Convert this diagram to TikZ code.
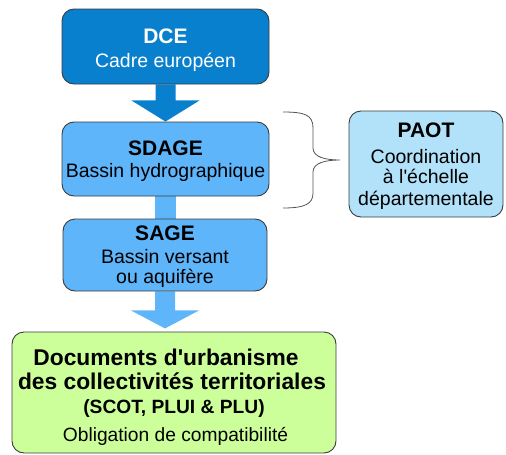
\documentclass[tikz,border=0pt]{standalone}
\usepackage{fontspec}
\setmainfont{Liberation Sans}
\usetikzlibrary{calc,backgrounds}
\definecolor{dcec}{RGB}{8,128,206}
\definecolor{sdagec}{RGB}{95,181,250}
\definecolor{paotc}{RGB}{178,226,250}
\definecolor{docc}{RGB}{204,255,153}
\definecolor{bordc}{RGB}{60,60,60}
\definecolor{bracec}{RGB}{85,85,85}
\tikzset{
  box/.style={draw=bordc, line width=0.9pt, rounded corners=12pt, inner sep=0pt},
  ttl/.style={anchor=base, inner sep=0pt, font=\fontsize{21}{24}\selectfont\bfseries},
  sub/.style={anchor=base, inner sep=0pt, font=\fontsize{19.5}{23}\selectfont},
  dttl/.style={anchor=base, inner sep=0pt, font=\fontsize{22.8}{26}\selectfont\bfseries},
  dsub/.style={anchor=base, inner sep=0pt, font=\fontsize{19.2}{23}\selectfont\bfseries},
}
\begin{document}
\begin{tikzpicture}[x=1pt,y=-1pt]
\useasboundingbox (0,0) rectangle (506,455);
% boxes
\node[box, fill=dcec, minimum width=207pt, minimum height=75pt] (dce) at (165.5,46.5) {};
\node[box, fill=sdagec, minimum width=207pt, minimum height=74pt] (sdage) at (165.5,159) {};
\node[box, fill=sdagec, minimum width=204pt, minimum height=72pt] (sage) at (165,255) {};
\node[box, fill=paotc, minimum width=154pt, minimum height=106pt] (paot) at (426,164) {};
\node[box, fill=docc, minimum width=324pt, minimum height=121pt] (docs) at (174,392.5) {};
% connectors
\begin{scope}[on background layer]
\fill[dcec] ($(dce.south)+(-10,0)$) -- ($(dce.south)+(10,0)$) -- ($(dce.south)+(10,16)$)
  -- ($(dce.south)+(34,16)$) -- (sdage.north) -- ($(dce.south)+(-34,16)$)
  -- ($(dce.south)+(-10,16)$) -- cycle;
\fill[sdagec] ($(sdage.south)+(-10.5,0)$) rectangle ($(sdage.south)+(10.5,24)$);
\fill[sdagec] ($(sage.south)+(-10,0)$) -- ($(sage.south)+(10,0)$) -- ($(sage.south)+(10,19)$)
  -- ($(sage.south)+(34,19)$) -- ($(sage.south)+(0,37)$) -- ($(sage.south)+(-34,19)$)
  -- ($(sage.south)+(-10,19)$) -- cycle;
\end{scope}
% brace
\coordinate (bt) at (283,112);
\coordinate (tip) at (340,160);
\coordinate (bb) at (283,208);
\draw[bracec, line width=0.8pt] (bt) .. controls (305,112) and (313,115) .. (313,128)
  -- (313,148) .. controls (313,157) and (325,160) .. (tip)
  .. controls (325,160) and (313,163) .. (313,172)
  -- (313,193) .. controls (313,204) and (305,208) .. (bb);
% texts
\node[ttl, text=white] (t1) at (165.5,43) {DCE};
\node[sub, text=white] (s1) at (165.5,67) {Cadre européen};
\node[ttl] (t2) at (165.5,155) {SDAGE};
\node[sub] (s2) at (165.5,177) {Bassin hydrographique};
\node[ttl] (t3) at (165,240) {SAGE};
\node[sub] (s3a) at (165,263) {Bassin versant};
\node[sub] (s3b) at (165,283) {ou aquifère};
\node[ttl] (t4) at (426,137) {PAOT};
\node[sub] (s4a) at (426,163) {Coordination};
\node[sub] (s4b) at (426,183) {à l\textquotesingle échelle};
\node[sub] (s4c) at (426,205) {départementale};
\node[dttl] (t5a) at (166,365) {Documents d\textquotesingle urbanisme};
\node[dttl] (t5b) at (172,389) {des collectivités territoriales};
\node[dsub] (t5c) at (174,413) {(SCOT, PLUI \& PLU)};
\node[sub, font=\fontsize{19.2}{23}\selectfont] (s5) at (175.5,441) {Obligation de compatibilité};
\end{tikzpicture}
\end{document}
